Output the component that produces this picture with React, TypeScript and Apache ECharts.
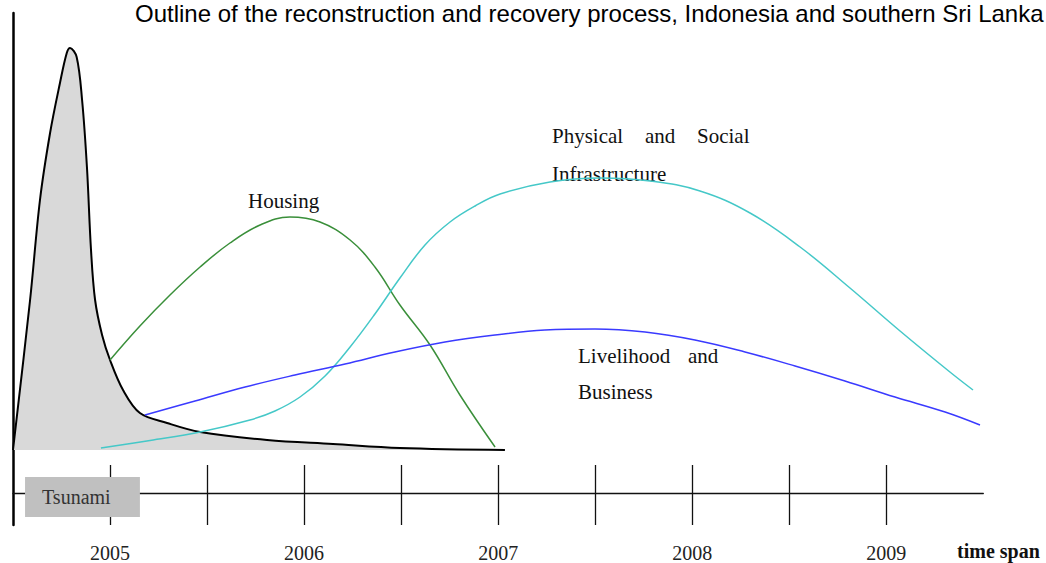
import React, { useEffect, useRef } from "react";
import * as echarts from "echarts";

const TITLE = "Outline of the reconstruction and recovery process, Indonesia and southern Sri Lanka";
const yearLabels = [2005, 2006, 2007, 2008, 2009];
const halfYearTicks = [2005, 2005.5, 2006, 2006.5, 2007, 2007.5, 2008, 2008.5, 2009];

// [year, intensity]
const emergency: [number, number][] = [
  [2004.5, 0], [2004.588, 37.5], [2004.639, 62.5], [2004.691, 79.25], [2004.742, 91.75],
  [2004.777, 99.25], [2004.794, 100.5], [2004.828, 98.25], [2004.856, 87.5], [2004.881, 70.75],
  [2004.902, 50], [2004.923, 37.5], [2004.959, 28.75], [2005.0, 22.5], [2005.067, 15],
  [2005.154, 9.25], [2005.294, 6.75], [2005.464, 4.5], [2005.809, 2.5], [2006.149, 1.5],
  [2006.494, 0.5], [2007.035, 0],
];
const housing: [number, number][] = [
  [2005.0, 22.5], [2005.154, 31], [2005.309, 38.75], [2005.464, 45.75], [2005.618, 51.75],
  [2005.773, 56.25], [2005.927, 58.25], [2006.082, 57], [2006.237, 52.5], [2006.365, 45.75],
  [2006.494, 36.25], [2006.649, 26.25], [2006.803, 13.75], [2006.984, 0.75],
];
const infrastructure: [number, number][] = [
  [2004.953, 0.5], [2005.206, 2.4], [2005.464, 4.5], [2005.721, 7.5], [2005.85, 9.75],
  [2005.979, 13.25], [2006.108, 18.5], [2006.237, 25.75], [2006.365, 34], [2006.494, 43],
  [2006.623, 51.25], [2006.752, 57], [2006.881, 61], [2007.01, 64], [2007.267, 67],
  [2007.525, 68], [2007.783, 67.25], [2008.04, 64.75], [2008.298, 59.25], [2008.556, 50.75],
  [2008.813, 40.5], [2009.071, 29.75], [2009.328, 19.5], [2009.447, 15],
];
const livelihood: [number, number][] = [
  [2005.18, 8.75], [2005.438, 12.25], [2005.696, 15.75], [2005.953, 18.75], [2006.211, 21.5],
  [2006.468, 24.5], [2006.726, 27], [2006.984, 28.75], [2007.241, 30], [2007.499, 30.25],
  [2007.757, 29.5], [2008.014, 27.5], [2008.272, 24.5], [2008.53, 21], [2008.787, 17.25],
  [2009.045, 13.25], [2009.303, 9.5], [2009.483, 6.25],
];
const tsunamiYears = [2004.562, 2005.154];
const tsunamiBand = [-6.75, -16.75];

const SERIF = '"Liberation Serif", "Times New Roman", serif';
const SANS = '"Liberation Sans", Arial, sans-serif';

export default function App() {
  const ref = useRef<HTMLDivElement>(null);
  useEffect(() => {
    if (!ref.current) return;
    const chart = echarts.init(ref.current, null, { renderer: "svg" });
    const lineLabel = (text: string, x: number, y: number) => ({
      type: "text",
      x,
      y,
      style: { text, font: `21px ${SERIF}`, fill: "#111", align: "left", verticalAlign: "middle" },
    });
    const option: any = {
      animation: false,
      backgroundColor: "#ffffff",
      grid: { left: 13, right: 62.7, top: 13, bottom: 38, containLabel: false, outerBoundsMode: "none" },
      xAxis: [
        {
          type: "value",
          min: 2004.5,
          max: 2009.5,
          position: "bottom",
          axisLine: { show: false, onZero: false },
          splitLine: { show: false },
          axisTick: {
            show: true,
            inside: true,
            length: 60,
            customValues: halfYearTicks,
            lineStyle: { color: "#111", width: 1.3 },
          },
          axisLabel: {
            show: true,
            customValues: yearLabels,
            margin: 18,
            fontFamily: SERIF,
            fontSize: 20,
            color: "#222",
            formatter: (v: number) => String(v),
          },
        },
        {
          type: "value",
          min: 2004.5,
          max: 2009.5,
          position: "bottom",
          offset: -32,
          axisLine: { show: true, onZero: false, lineStyle: { color: "#111", width: 1.3 } },
          axisTick: { show: false },
          axisLabel: { show: false },
          splitLine: { show: false },
        },
      ],
      yAxis: {
        type: "value",
        min: -18.75,
        max: 109.25,
        axisLine: { show: true, onZero: false, lineStyle: { color: "#000", width: 2.5 } },
        axisTick: { show: false },
        axisLabel: { show: false },
        splitLine: { show: false },
      },
      series: [
        {
          type: "line",
          name: "Emergency",
          data: emergency,
          smooth: 0.35,
          symbol: "none",
          z: 1,
          lineStyle: { color: "#000", width: 2 },
          areaStyle: { color: "#d9d9d9", opacity: 1 },
          markArea: {
            silent: true,
            itemStyle: { color: "#c0c0c0", opacity: 1, borderWidth: 0 },
            label: {
              show: true,
              position: "insideLeft",
              distance: 17,
              fontFamily: SERIF,
              fontSize: 20,
              color: "#333",
            },
            data: [
              [
                { name: "Tsunami", xAxis: tsunamiYears[0], yAxis: tsunamiBand[0] },
                { xAxis: tsunamiYears[1], yAxis: tsunamiBand[1] },
              ],
            ],
          },
        },
        {
          type: "line",
          name: "Housing",
          data: housing,
          smooth: 0.4,
          symbol: "none",
          z: 3,
          lineStyle: { color: "#3a8f3a", width: 1.5 },
        },
        {
          type: "line",
          name: "Physical and Social Infrastructure",
          data: infrastructure,
          smooth: 0.4,
          symbol: "none",
          z: 3,
          lineStyle: { color: "#45c8c8", width: 1.5 },
        },
        {
          type: "line",
          name: "Livelihood and Business",
          data: livelihood,
          smooth: 0.4,
          symbol: "none",
          z: 3,
          lineStyle: { color: "#3a3aff", width: 1.5 },
        },
      ],
      graphic: [
        {
          type: "text",
          x: 135,
          y: 13,
          style: { text: TITLE, font: `24px ${SANS}`, fill: "#000", align: "left", verticalAlign: "middle" },
        },
        lineLabel("Housing", 248, 200.5),
        lineLabel("Physical", 552, 135.5),
        lineLabel("and", 645, 135.5),
        lineLabel("Social", 697, 135.5),
        lineLabel("Infrastructure", 552, 173.5),
        lineLabel("Livelihood", 578, 355.5),
        lineLabel("and", 688, 355.5),
        lineLabel("Business", 578, 391.5),
        {
          type: "text",
          x: 957,
          y: 551,
          style: {
            text: "time span",
            font: `bold 20px ${SERIF}`,
            fill: "#111",
            align: "left",
            verticalAlign: "middle",
          },
        },
      ],
    };
    chart.setOption(option);
    return () => chart.dispose();
  }, []);
  return (
    <div
      ref={ref}
      style={{ position: "fixed", left: 0, top: 0, width: 1046, height: 563, background: "#fff" }}
    />
  );
}
